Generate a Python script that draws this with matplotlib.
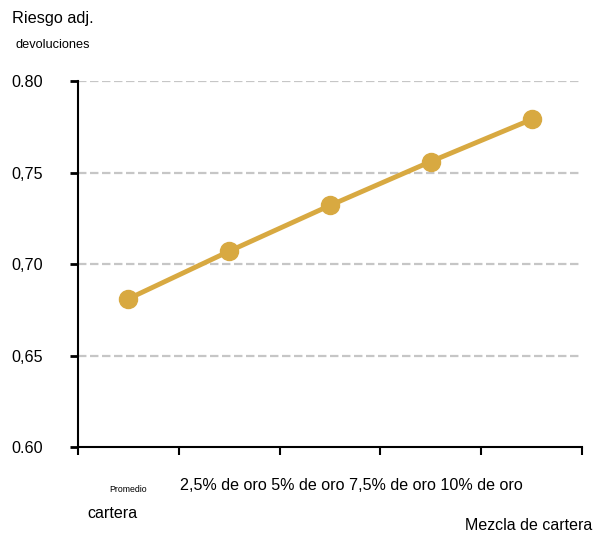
import matplotlib
matplotlib.use("Agg")
import matplotlib.pyplot as plt
import matplotlib.transforms as mtransforms

plt.rcParams['font.family'] = ['Liberation Sans', 'DejaVu Sans']

# Portfolio mixes and their risk-adjusted returns
categories = ["Promedio cartera", "2,5% de oro", "5% de oro", "7,5% de oro", "10% de oro"]
risk_adj_returns = [0.681, 0.707, 0.732, 0.756, 0.779]
y_ticks = [0.60, 0.65, 0.70, 0.75, 0.80]
y_tick_labels = ["0.60", "0,65", "0,70", "0,75", "0.80"]

line_color = "#D8A941"
grid_color = "#C6C6C6"

fig = plt.figure(figsize=(6.02, 5.34), dpi=100)
ax = fig.add_axes([0.1296, 0.1629, 0.8372, 0.6854])

x = [i + 0.5 for i in range(len(categories))]
ax.plot(x, risk_adj_returns, color=line_color, linewidth=3.5,
        marker="o", markersize=13, zorder=3, solid_capstyle="round")

ax.set_xlim(0, len(categories))
ax.set_ylim(y_ticks[0], y_ticks[-1])
ax.set_yticks(y_ticks)
ax.set_yticklabels(y_tick_labels, fontsize=11.6)
ax.set_xticks(range(len(categories) + 1))
ax.set_xticklabels([])

for yv in y_ticks[1:]:
    ax.axhline(yv, color=grid_color, linewidth=1.6, dashes=(3.8, 1.6), zorder=1)

for side in ("top", "right"):
    ax.spines[side].set_visible(False)
for side in ("left", "bottom"):
    ax.spines[side].set_linewidth(1.5)
ax.tick_params(axis="y", length=6, width=2, pad=19)
ax.tick_params(axis="x", length=6, width=1.5)

# Category labels under the axis
trans = mtransforms.blended_transform_factory(ax.transData, fig.transFigure)
ax.text(0.5, 1 - 490 / 534, "Promedio", transform=trans, fontsize=6.3,
        ha="center", va="center")
ax.text(0.34, 1 - 514 / 534, "cartera", transform=trans, fontsize=11.6,
        ha="center", va="center")
ax.text(1.01, 1 - 485 / 534, " ".join(categories[1:]), transform=trans,
        fontsize=11.6, ha="left", va="center")

fig.text(592 / 602, 1 - 526 / 534, "Mezcla de cartera", fontsize=11.5,
         ha="right", va="center")
fig.text(12 / 602, 1 - 19 / 534, "Riesgo adj.", fontsize=11.7,
         ha="left", va="center")
fig.text(15 / 602, 1 - 45 / 534, "devoluciones", fontsize=9.2,
         ha="left", va="center")

fig.savefig("out.png", dpi=100)
